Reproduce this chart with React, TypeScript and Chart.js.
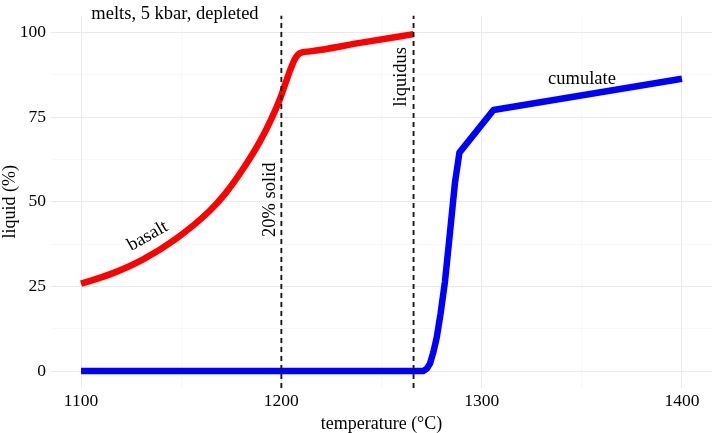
import React, { useEffect, useRef } from "react";
import { Chart, registerables } from "chart.js";

Chart.register(...registerables);

// Data (temperature °C, liquid %)
const basaltT = [1100, 1115, 1131, 1147, 1164, 1172, 1181, 1189.4, 1195.2, 1199.4, 1202.3, 1204.7, 1206.8, 1209.3, 1214.3, 1240, 1266];
const basaltLiquid = [25.8, 28.7, 33.0, 38.9, 47.2, 52.4, 59.8, 67.9, 74.7, 80.5, 85.4, 89.3, 92.2, 93.9, 94.4, 97.0, 99.5];

const cumulateT = [1100, 1270.7, 1272.5, 1274.2, 1275.9, 1277.6, 1279.5, 1281.7, 1284.2, 1286.7, 1288.9, 1305.9, 1400];
const cumulateLiquid = [0, 0, 0.6, 2.2, 5.6, 10, 17, 26.5, 41, 55.7, 64.5, 77.1, 86.3];

const solid20T = 1200;
const liquidusT = 1266;

const xTicks = [1100, 1150, 1200, 1250, 1300, 1350, 1400];
const xMajorTicks = [1100, 1200, 1300, 1400];
const yTicks = [0, 12.5, 25, 37.5, 50, 62.5, 75, 87.5, 100];
const yMajorTicks = [0, 25, 50, 75, 100];

const xMin = 1085;
const xMax = 1415;
const yMin = -5;
const yMax = 105;

// Text annotations (placed in data units)
const labelTexts = ["melts, 5 kbar, depleted", "basalt", "20% solid", "liquidus", "cumulate"];
const labelT = [1146.9, 1134.5, 1196.6, 1262, 1350.1];
const labelY = [103.9, 38.6, 50.6, 86.9, 84.9];
const labelAngle = [0, -29.5, -90, -90, 0];

const FONT = '"Liberation Serif", "Times New Roman", serif';

const labelPlugin = {
  id: "textLabels",
  afterDatasetsDraw(chart: any) {
    const { ctx, scales } = chart;
    const xs = scales.x;
    const ys = scales.y;
    ctx.save();
    ctx.font = `18.5px ${FONT}`;
    ctx.fillStyle = "#000";
    ctx.textAlign = "center";
    ctx.textBaseline = "alphabetic";
    for (let i = 0; i < labelTexts.length; i++) {
      ctx.save();
      ctx.translate(xs.getPixelForValue(labelT[i]), ys.getPixelForValue(labelY[i]));
      ctx.rotate((labelAngle[i] * Math.PI) / 180);
      ctx.fillText(labelTexts[i], 0, 0);
      ctx.restore();
    }
    ctx.restore();
  },
};

export default function App() {
  const ref = useRef<HTMLCanvasElement>(null);

  useEffect(() => {
    if (!ref.current) return;
    const toPts = (xs: number[], ys: number[]) => xs.map((x, i) => ({ x, y: ys[i] }));
    const chart = new Chart(ref.current, {
      type: "scatter",
      data: {
        datasets: [
          {
            label: "20% solid",
            data: [
              { x: solid20T, y: yMin },
              { x: solid20T, y: yMax },
            ],
            showLine: true,
            borderColor: "#1a1a1a",
            borderWidth: 1.9,
            borderDash: [5, 4],
            pointRadius: 0,
            order: 0,
          },
          {
            label: "liquidus",
            data: [
              { x: liquidusT, y: yMin },
              { x: liquidusT, y: yMax },
            ],
            showLine: true,
            borderColor: "#1a1a1a",
            borderWidth: 1.9,
            borderDash: [5, 4],
            pointRadius: 0,
            order: 0,
          },
          {
            label: "basalt",
            data: toPts(basaltT, basaltLiquid),
            showLine: true,
            borderColor: "#ff0000",
            borderWidth: 6.5,
            borderCapStyle: "butt",
            borderJoinStyle: "round",
            pointRadius: 0,
            cubicInterpolationMode: "monotone",
            order: 1,
          },
          {
            label: "cumulate",
            data: toPts(cumulateT, cumulateLiquid),
            showLine: true,
            borderColor: "#0000ff",
            borderWidth: 6.5,
            borderCapStyle: "butt",
            borderJoinStyle: "round",
            pointRadius: 0,
            tension: 0,
            order: 1,
          },
        ],
      },
      options: {
        animation: false,
        responsive: false,
        devicePixelRatio: 1,
        layout: { padding: { top: 11, right: 1, left: 0, bottom: 0 } },
        plugins: {
          legend: { display: false },
          tooltip: { enabled: false },
        },
        scales: {
          x: {
            type: "linear",
            min: xMin,
            max: xMax,
            afterBuildTicks: (s: any) => {
              s.ticks = xTicks.map((v) => ({ value: v }));
            },
            afterFit: (s: any) => {
              s.height = 45;
            },
            border: { display: false },
            grid: {
              drawTicks: false,
              color: (c: any) => (xMajorTicks.includes(c.tick?.value) ? "#ebebeb" : "#f3f3f3"),
              lineWidth: (c: any) => (xMajorTicks.includes(c.tick?.value) ? 1 : 0.6),
            },
            ticks: {
              autoSkip: false,
              maxRotation: 0,
              padding: 3,
              color: "#000",
              font: { family: FONT, size: 17.5 },
              callback: (v: any) => (xMajorTicks.includes(Number(v)) ? String(v) : ""),
            },
            title: {
              display: true,
              text: "temperature (°C)",
              color: "#000",
              font: { family: FONT, size: 18, lineHeight: 1 },
              padding: { top: 0, bottom: 0 },
            },
          },
          y: {
            type: "linear",
            min: yMin,
            max: yMax,
            afterBuildTicks: (s: any) => {
              s.ticks = yTicks.map((v) => ({ value: v }));
            },
            afterFit: (s: any) => {
              s.width = 51;
            },
            border: { display: false },
            grid: {
              drawTicks: false,
              color: (c: any) => (yMajorTicks.includes(c.tick?.value) ? "#ebebeb" : "#f3f3f3"),
              lineWidth: (c: any) => (yMajorTicks.includes(c.tick?.value) ? 1 : 0.6),
            },
            ticks: {
              autoSkip: false,
              padding: 5,
              color: "#000",
              font: { family: FONT, size: 17.5 },
              callback: (v: any) => (yMajorTicks.includes(Number(v)) ? String(v) : ""),
            },
            title: {
              display: true,
              text: "liquid (%)",
              color: "#000",
              font: { family: FONT, size: 18, lineHeight: 1 },
              padding: { top: 1, bottom: 0 },
            },
          },
        },
      },
      plugins: [labelPlugin],
    });
    return () => chart.destroy();
  }, []);

  return (
    <div style={{ position: "absolute", left: 0, top: 0, width: 713, height: 433, background: "#fff" }}>
      <canvas ref={ref} width={713} height={433} style={{ display: "block" }} />
    </div>
  );
}
